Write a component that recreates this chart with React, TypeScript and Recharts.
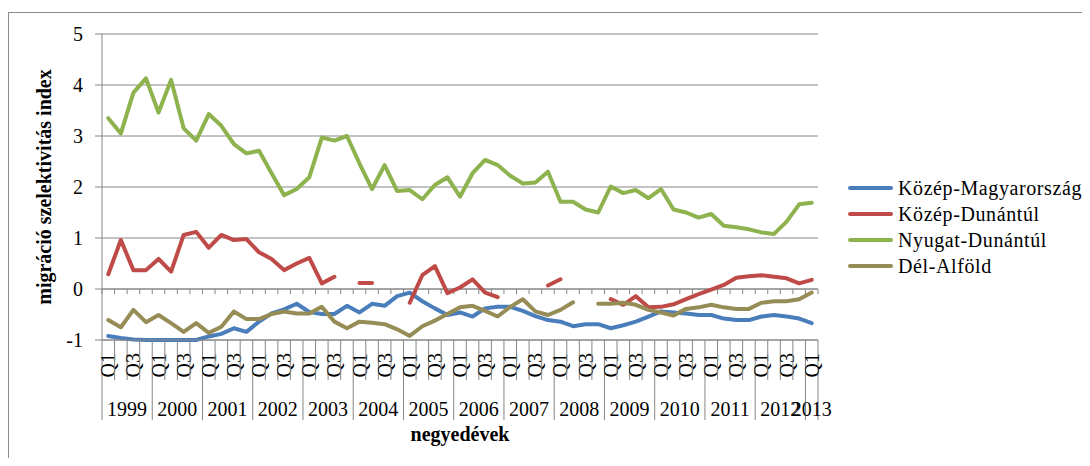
import { CartesianGrid, Legend, Line, LineChart, ReferenceLine, XAxis, YAxis } from 'recharts';

const FONT = '"Liberation Serif", "Times New Roman", serif';
const AXIS_GRAY = '#868686';

// categories: 1999 Q1 .. 2013 Q1
const years = [1999, 2000, 2001, 2002, 2003, 2004, 2005, 2006, 2007, 2008, 2009, 2010, 2011, 2012, 2013];
const quarters = ['Q1', 'Q2', 'Q3', 'Q4'];
const categories = years.flatMap((year) => quarters.map((quarter) => ({ year, quarter }))).slice(0, 57);

const yTicks = [-1, 0, 1, 2, 3, 4, 5];
const seriesNames = ['Közép-Magyarország', 'Közép-Dunántúl', 'Nyugat-Dunántúl', 'Dél-Alföld'];

const kozepMagyarorszag = [
  -0.92, -0.96, -0.99, -1.0, -1.0, -1.0, -1.0, -1.0, -0.93, -0.88, -0.77, -0.84, -0.64, -0.48, -0.4, -0.29, -0.45,
  -0.49, -0.49, -0.33, -0.46, -0.29, -0.33, -0.14, -0.07, -0.24, -0.38, -0.51, -0.46, -0.54, -0.38, -0.35, -0.35,
  -0.43, -0.53, -0.61, -0.64, -0.73, -0.69, -0.69, -0.77, -0.71, -0.64, -0.54, -0.44, -0.46, -0.48, -0.51, -0.51,
  -0.58, -0.61, -0.61, -0.54, -0.51, -0.54, -0.58, -0.67,
];
const kozepDunantul = [
  0.29, 0.96, 0.37, 0.37, 0.59, 0.34, 1.06, 1.12, 0.81, 1.06, 0.96, 0.98, 0.72, 0.59, 0.37, 0.5, 0.61, 0.11, 0.24,
  null, 0.12, 0.12, null, null, -0.27, 0.27, 0.45, -0.08, 0.03, 0.19, -0.07, -0.16, null, null, null, 0.07, 0.19,
  null, null, null, -0.2, -0.31, -0.14, -0.36, -0.35, -0.3, -0.2, -0.1, -0.01, 0.08, 0.22, 0.25, 0.27, 0.24, 0.21,
  0.11, 0.18,
];
const nyugatDunantul = [
  3.35, 3.05, 3.85, 4.13, 3.46, 4.1, 3.15, 2.91, 3.43, 3.2, 2.84, 2.66, 2.71, 2.27, 1.84, 1.96, 2.19, 2.97, 2.91, 3.0,
  2.46, 1.96, 2.43, 1.92, 1.94, 1.76, 2.04, 2.19, 1.81, 2.27, 2.53, 2.43, 2.22, 2.07, 2.09, 2.3, 1.71, 1.71, 1.56,
  1.5, 2.01, 1.88, 1.94, 1.78, 1.96, 1.56, 1.5, 1.4, 1.47, 1.24, 1.21, 1.17, 1.11, 1.08, 1.32, 1.66, 1.69,
];
const delAlfold = [
  -0.61, -0.75, -0.41, -0.65, -0.51, -0.67, -0.84, -0.67, -0.86, -0.74, -0.44, -0.59, -0.59, -0.49, -0.44, -0.48,
  -0.48, -0.35, -0.64, -0.77, -0.64, -0.66, -0.69, -0.79, -0.92, -0.73, -0.62, -0.49, -0.36, -0.33, -0.43, -0.54,
  -0.35, -0.2, -0.44, -0.51, -0.41, -0.26, null, -0.29, -0.29, -0.27, -0.31, -0.41, -0.46, -0.52, -0.39, -0.36, -0.31,
  -0.36, -0.39, -0.39, -0.27, -0.24, -0.24, -0.2, -0.07,
];

const N = categories.length;
const chartData = categories.map((c, i) => ({
  i,
  km: kozepMagyarorszag[i],
  kd: kozepDunantul[i],
  nd: nyugatDunantul[i],
  da: delAlfold[i],
}));
const boundaries = Array.from({ length: N + 1 }, (_, k) => k - 0.5);

const W = 1082;
const H = 450;
const MARGIN = { top: 26, right: 272, bottom: 0, left: 0 };
const Y_AXIS_W = 94;
const PLOT_W = W - MARGIN.left - MARGIN.right - Y_AXIS_W;
const BAND = PLOT_W / N;

const textStyle = { fontFamily: FONT, fontSize: 20, fill: '#000' };

const CategoryTick = (props: any) => {
  const { x, y, payload } = props;
  const i = payload.value as number;
  const c = categories[i];
  if (!c) return null;
  const left = x - BAND / 2;
  const yearStart = i % 4 === 0;
  const yearLen = Math.min(4, N - i);
  return (
    <g>
      <line x1={left} y1={y} x2={left} y2={y + (yearStart ? 80 : 40)} stroke={AXIS_GRAY} />
      {i === N - 1 && <line x1={x + BAND / 2} y1={y} x2={x + BAND / 2} y2={y + 80} stroke={AXIS_GRAY} />}
      {i % 2 === 0 && (
        <text
          x={x}
          y={y + 13}
          dy="0.35em"
          transform={`rotate(-90 ${x} ${y + 13})`}
          textAnchor="end"
          style={textStyle}
        >
          {c.quarter}
        </text>
      )}
      {yearStart && (
        <text x={left + (yearLen * BAND) / 2} y={y + 76} textAnchor="middle" style={textStyle}>
          {c.year}
        </text>
      )}
    </g>
  );
};

const YTitle = (props: any) => {
  const { viewBox } = props;
  const cx = viewBox.x + 43;
  const cy = viewBox.y + viewBox.height / 2;
  return (
    <text
      x={cx}
      y={cy}
      transform={`rotate(-90 ${cx} ${cy})`}
      textAnchor="middle"
      style={{ ...textStyle, fontWeight: 'bold' }}
    >
      migráció szelektivitás index
    </text>
  );
};

const XTitle = (props: any) => {
  const { viewBox } = props;
  return (
    <text
      x={viewBox.x + viewBox.width / 2}
      y={viewBox.y + 101}
      textAnchor="middle"
      style={{ ...textStyle, fontWeight: 'bold' }}
    >
      negyedévek
    </text>
  );
};

const renderLegend = (props: any) => {
  const items = [...(props.payload || [])].sort(
    (a: any, b: any) => seriesNames.indexOf(a.value) - seriesNames.indexOf(b.value),
  );
  return (
    <div style={{ fontFamily: 'Liberation Serif', fontSize: 20, color: '#000', letterSpacing: 0.6 }}>
      {items.map((e: any) => (
        <div key={e.value} style={{ display: 'flex', alignItems: 'center', height: 26, whiteSpace: 'nowrap' }}>
          <span
            style={{
              display: 'inline-block',
              width: 45,
              height: 4,
              borderRadius: 2,
              background: e.color,
              marginRight: 5,
            }}
          />
          <span style={{ fontFamily: 'Liberation Serif' }}>{e.value}</span>
        </div>
      ))}
    </div>
  );
};

const lineProps = {
  type: 'linear' as const,
  strokeWidth: 4,
  dot: false,
  activeDot: false,
  isAnimationActive: false,
  strokeLinecap: 'round' as const,
  strokeLinejoin: 'round' as const,
};

const App = () => {
  return (
    <div style={{ position: 'relative', width: W, height: H }}>
      <div
        style={{
          position: 'absolute',
          left: 0,
          top: 4,
          right: 0,
          bottom: 0,
          borderLeft: '1px solid #8c8c8c',
          borderTop: '1px solid #8c8c8c',
        }}
      />
      <LineChart width={W} height={H} data={chartData} margin={MARGIN}>
        <CartesianGrid horizontal vertical={false} stroke={AXIS_GRAY} />
        <XAxis
          dataKey="i"
          type="number"
          domain={[-0.5, N - 0.5]}
          ticks={chartData.map((d) => d.i)}
          interval={0}
          height={H - MARGIN.top - 306}
          tickSize={0}
          tickMargin={0}
          tickLine={false}
          axisLine={{ stroke: AXIS_GRAY }}
          tick={<CategoryTick />}
          label={<XTitle />}
        />
        <YAxis
          type="number"
          domain={[-1, 5]}
          ticks={yTicks}
          interval={0}
          width={Y_AXIS_W}
          tickSize={7}
          tickMargin={12}
          axisLine={{ stroke: AXIS_GRAY }}
          tickLine={{ stroke: AXIS_GRAY }}
          tick={textStyle}
          label={<YTitle />}
        />
        <ReferenceLine y={0} stroke={AXIS_GRAY} />
        {boundaries.map((b) => (
          <ReferenceLine
            key={b}
            segment={[
              { x: b, y: 0 },
              { x: b, y: -0.1 },
            ]}
            stroke={AXIS_GRAY}
          />
        ))}
        <Line {...lineProps} dataKey="km" name={seriesNames[0]} stroke="#4A7EBB" />
        <Line {...lineProps} dataKey="kd" name={seriesNames[1]} stroke="#BE4B48" />
        <Line {...lineProps} dataKey="nd" name={seriesNames[2]} stroke="#8DB24E" />
        <Line {...lineProps} dataKey="da" name={seriesNames[3]} stroke="#968C56" />
        <Legend
          layout="vertical"
          align="center"
          verticalAlign="middle"
          wrapperStyle={{ left: 840, top: 167, width: 240 }}
          content={renderLegend}
        />
      </LineChart>
    </div>
  );
};

export default App;
